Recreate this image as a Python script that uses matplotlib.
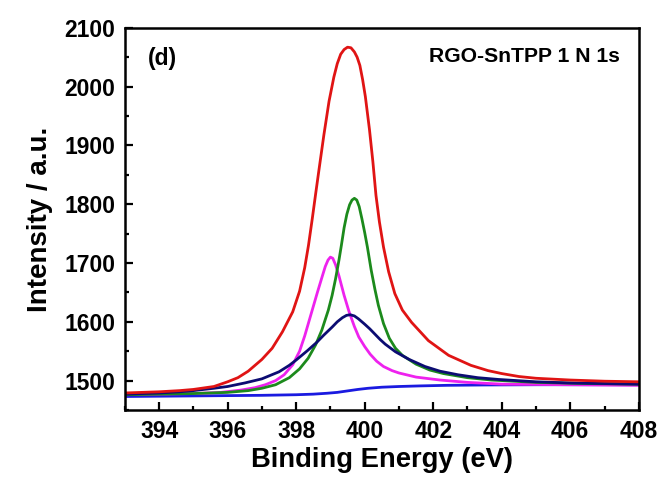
import matplotlib
matplotlib.use("Agg")
import matplotlib.pyplot as plt
from matplotlib.ticker import MultipleLocator

# N 1s fit components, binding energy (eV) vs intensity
envelope_eV = [393.0, 394.0, 394.6, 395.0, 395.6, 396.0, 396.3, 396.6, 397.0, 397.3,
               397.6, 397.9, 398.1, 398.25, 398.36, 398.47, 398.57, 398.67, 398.81, 398.96,
               399.1, 399.2, 399.3, 399.4, 399.5, 399.6, 399.7, 399.78, 399.86, 399.94,
               400.02, 400.14, 400.24, 400.33, 400.43, 400.55, 400.7, 400.88, 401.1, 401.37,
               401.86, 402.45, 403.1, 403.6, 404.0, 404.5, 405.0, 406.0, 407.0, 408.0]
envelope = [1479, 1481, 1483, 1485, 1490, 1498, 1505, 1516, 1536, 1555,
            1583, 1617, 1652, 1692, 1730, 1775, 1818, 1860, 1918, 1975,
            2016, 2039, 2055, 2063, 2067, 2066, 2059, 2050, 2036, 2012,
            1983, 1927, 1872, 1815, 1770, 1727, 1685, 1648, 1620, 1599,
            1568, 1543, 1526, 1517, 1512, 1507, 1504, 1501, 1499, 1498]

green_eV = [393.0, 394.0, 395.0, 396.0, 396.6, 397.0, 397.4, 397.8, 398.1, 398.35,
            398.57, 398.75, 398.94, 399.05, 399.15, 399.25, 399.32, 399.4, 399.48, 399.56,
            399.63, 399.7, 399.77, 399.84, 399.92, 400.0, 400.08, 400.19, 400.3, 400.4,
            400.55, 400.72, 400.9, 401.1, 401.5, 401.9, 402.3, 403.0, 403.7, 405.0,
            406.5, 408.0]
green = [1476, 1477, 1478, 1480, 1483, 1487, 1493, 1505, 1520, 1538,
         1561, 1586, 1620, 1645, 1673, 1705, 1730, 1760, 1783, 1799,
         1807, 1810, 1807, 1796, 1775, 1752, 1727, 1688, 1655, 1628,
         1597, 1572, 1555, 1543, 1528, 1518, 1512, 1505, 1501, 1497,
         1495, 1494]

magenta_eV = [393.0, 394.0, 395.0, 395.8, 396.4, 396.8, 397.1, 397.4, 397.65, 397.9,
              398.1, 398.25, 398.38, 398.5, 398.62, 398.75, 398.85, 398.93, 399.0, 399.07,
              399.15, 399.25, 399.4, 399.54, 399.7, 399.83, 400.0, 400.16, 400.35, 400.55,
              400.8, 401.0, 401.5, 402.2, 403.0, 404.0, 406.0, 408.0]
magenta = [1476, 1477, 1478, 1480, 1484, 1488, 1493, 1500, 1510, 1527,
           1550, 1576, 1602, 1626, 1650, 1675, 1694, 1705, 1710, 1708,
           1697, 1678, 1645, 1618, 1592, 1574, 1558, 1545, 1533, 1524,
           1517, 1513, 1506, 1501, 1497, 1494, 1493, 1492]

navy_eV = [393.0, 394.0, 394.6, 395.0, 395.6, 396.0, 396.5, 397.0, 397.5, 397.8,
           398.0, 398.33, 398.6, 398.8, 399.05, 399.2, 399.35, 399.47, 399.58, 399.7,
           399.82, 400.0, 400.15, 400.3, 400.45, 400.6, 400.9, 401.3, 401.76, 402.2,
           402.72, 403.3, 403.9, 405.0, 406.0, 408.0]
navy = [1477, 1479, 1481, 1483, 1487, 1490, 1496, 1503, 1515, 1526,
        1535, 1551, 1565, 1577, 1591, 1600, 1607, 1611, 1612, 1610,
        1605, 1596, 1588, 1579, 1570, 1562, 1549, 1536, 1524, 1516,
        1510, 1505, 1502, 1498, 1496, 1494]

background_eV = [393.0, 395.0, 397.0, 398.0, 398.5, 398.9, 399.2, 399.5, 399.8, 400.1,
                 400.5, 401.0, 401.6, 402.4, 403.5, 405.0, 408.0]
background = [1473, 1474, 1475, 1476, 1477, 1478.5, 1480, 1482.5, 1485, 1487,
              1488.8, 1490, 1491, 1492, 1492.6, 1493, 1493]

plt.rcParams['font.family'] = ['Liberation Sans', 'DejaVu Sans']
plt.rcParams['font.weight'] = 'bold'

fig = plt.figure(figsize=(6.64, 4.79), dpi=100)
ax = fig.add_axes([0.188, 0.144, 0.774, 0.798])

style = dict(lw=2.0, solid_joinstyle='round', solid_capstyle='round')
ax.plot(background_eV, background, color='#1a1ae0', **style)
ax.plot(magenta_eV, magenta, color='#ee22ee', **style)
ax.plot(green_eV, green, color='#1c8a1c', **style)
ax.plot(navy_eV, navy, color='#0c0c72', **style)
ax.plot(envelope_eV, envelope, color='#e01414', **style)

ax.set_xlim(393, 408)
ax.set_ylim(1450, 2100)
ax.xaxis.set_major_locator(MultipleLocator(2))
ax.xaxis.set_minor_locator(MultipleLocator(1))
ax.yaxis.set_major_locator(MultipleLocator(100))
ax.yaxis.set_minor_locator(MultipleLocator(50))

ax.tick_params(which='both', direction='in', width=1.6, top=False, right=False,
               labelsize=16.5)
ax.tick_params(which='major', length=6, pad=7)
ax.tick_params(which='minor', length=3)
for lab in ax.get_xticklabels() + ax.get_yticklabels():
    lab.set_fontweight('bold')
for sp in ax.spines.values():
    sp.set_linewidth(1.8)

ax.set_xlabel('Binding Energy (eV)', fontsize=19.7, fontweight='bold', labelpad=3)
ax.set_ylabel('Intensity / a.u.', fontsize=20, fontweight='bold', labelpad=8)

ax.text(0.045, 0.92, '(d)', transform=ax.transAxes, fontsize=16.5,
        fontweight='bold', va='center', ha='left')
ax.text(0.964, 0.924, 'RGO-SnTPP 1 N 1s', transform=ax.transAxes, fontsize=15.2,
        fontweight='bold', va='center', ha='right')

fig.savefig('out.png', dpi=100)
